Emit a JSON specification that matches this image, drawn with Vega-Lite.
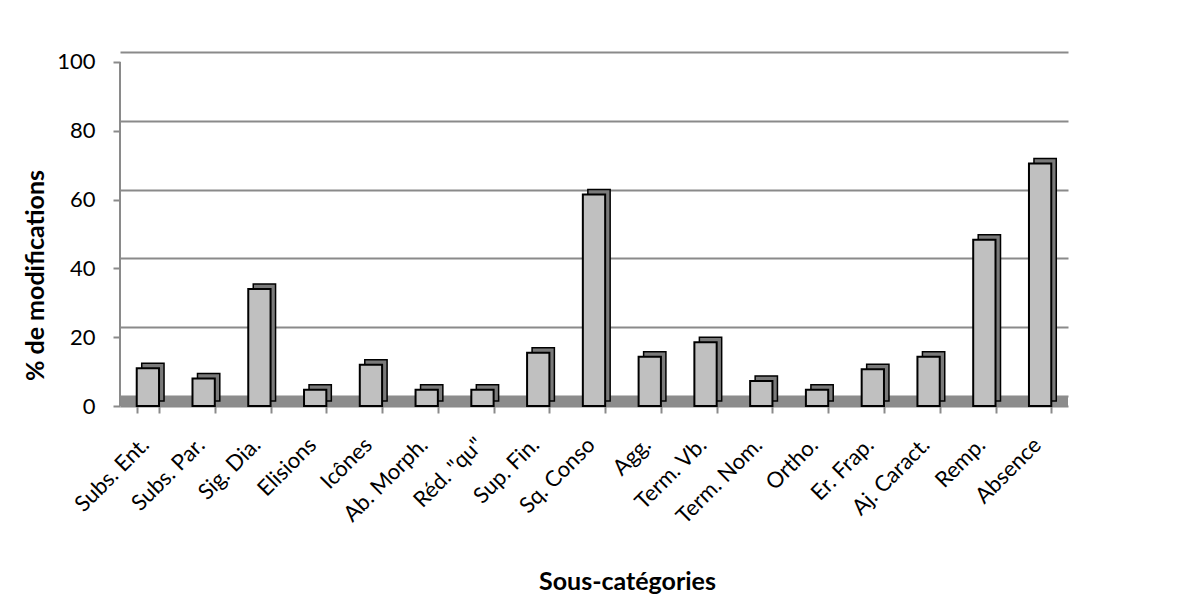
{
  "$schema": "https://vega.github.io/schema/vega-lite/v6.json",
  "autosize": "none",
  "width": 948,
  "height": 354,
  "padding": {"left": 120, "top": 52, "right": 126, "bottom": 207},
  "background": "white",
  "config": {
    "view": {"stroke": null},
    "font": "Lato",
    "axis": {"labelFont": "Lato", "titleFont": "Lato", "labelColor": "black", "titleColor": "black"}
  },
  "data": {
    "values": [
      {"cat": "Subs. Ent.", "val": 11},
      {"cat": "Subs. Par.", "val": 8},
      {"cat": "Sig. Dia.", "val": 34},
      {"cat": "Elisions", "val": 4.7},
      {"cat": "Icônes", "val": 12},
      {"cat": "Ab. Morph.", "val": 4.7},
      {"cat": "Réd. \"qu\"", "val": 4.7},
      {"cat": "Sup. Fin.", "val": 15.5},
      {"cat": "Sq. Conso", "val": 61.5},
      {"cat": "Agg.", "val": 14.3},
      {"cat": "Term. Vb.", "val": 18.5},
      {"cat": "Term. Nom.", "val": 7.3},
      {"cat": "Ortho.", "val": 4.7},
      {"cat": "Er. Frap.", "val": 10.7},
      {"cat": "Aj. Caract.", "val": 14.3},
      {"cat": "Remp.", "val": 48.3},
      {"cat": "Absence", "val": 70.5}
    ]
  },
  "layer": [
    {
      "layer": [
        {
          "mark": {"type": "rect", "x": 0, "x2": "width", "color": "#8c8c8c"},
          "encoding": {
            "y": {
              "datum": -2.9,
              "type": "quantitative",
              "scale": {"domain": [-2.9, 100], "nice": false, "zero": false},
              "axis": {
                "orient": "right",
                "values": [0, 20, 40, 60, 80, 100],
                "grid": true,
                "gridColor": "#8a8a8a",
                "gridWidth": 2,
                "labels": false,
                "ticks": false,
                "domain": false,
                "title": null
              }
            },
            "y2": {"datum": 0}
          }
        },
        {
          "mark": {"type": "rule", "x": 0, "color": "#8a8a8a", "strokeWidth": 2},
          "encoding": {
            "y": {"datum": -2.9, "type": "quantitative"},
            "y2": {"datum": 97.1}
          }
        }
      ]
    },
    {
      "encoding": {
        "x": {
          "field": "cat",
          "type": "nominal",
          "sort": null,
          "scale": {"paddingInner": 0.6, "paddingOuter": 0.3},
          "axis": {
            "title": "Sous-catégories",
            "titleFontSize": 25,
            "titleFontWeight": "bold",
            "titleX": 507,
            "titleY": 183,
            "titleBaseline": "alphabetic",
            "titleAlign": "center",
            "labelAngle": -45,
            "labelFontSize": 22,
            "labelBaseline": "middle",
            "labelAlign": "right",
            "labelPadding": 28,
            "labelOffset": -3,
            "tickBand": "extent",
            "tickSize": 7,
            "tickWidth": 2,
            "tickColor": "#8a8a8a",
            "domainColor": "#8a8a8a",
            "domainWidth": 2
          }
        },
        "y": {
          "field": "val",
          "type": "quantitative",
          "scale": {"domain": [0, 102.9], "nice": false},
          "axis": {
            "orient": "left",
            "values": [0, 20, 40, 60, 80, 100],
            "grid": false,
            "domain": false,
            "title": "% de modifications",
            "titleFontSize": 25,
            "titleFontWeight": "bold",
            "titleX": -85,
            "titleY": 223,
            "titleAngle": -90,
            "titleAlign": "center",
            "titleBaseline": "middle",
            "labelFontSize": 22,
            "labelPadding": 18,
            "tickSize": 7,
            "tickWidth": 2,
            "tickColor": "#8a8a8a"
          }
        }
      },
      "layer": [
        {"mark": {"type": "bar", "xOffset": 5, "yOffset": -5, "fill": "#7a7a7a", "stroke": "black", "strokeWidth": 1.5}},
        {"mark": {"type": "bar", "fill": "#c0c0c0", "stroke": "black", "strokeWidth": 2}}
      ]
    }
  ],
  "resolve": {"scale": {"y": "independent"}}
}
